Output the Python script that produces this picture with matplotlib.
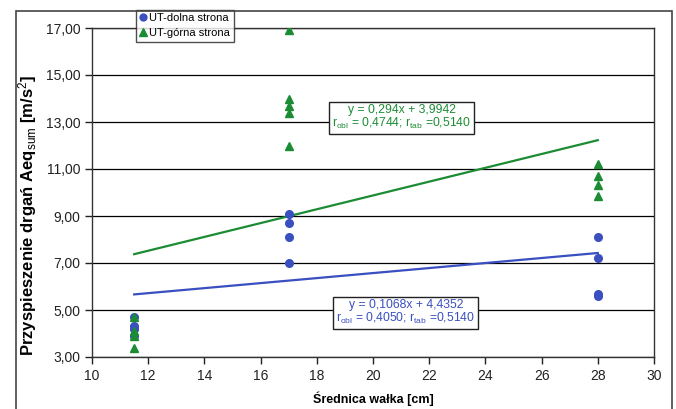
import numpy as np
import matplotlib.pyplot as plt
from matplotlib.patches import Rectangle

plt.rcParams['font.family'] = ['Liberation Sans', 'DejaVu Sans']
plt.rcParams['mathtext.fontset'] = 'custom'
plt.rcParams['mathtext.rm'] = 'Liberation Sans'
plt.rcParams['mathtext.it'] = 'Liberation Sans'
plt.rcParams['mathtext.bf'] = 'Liberation Sans:bold'

# data
x_dolna = [11.5, 11.5, 11.5, 11.5, 17, 17, 17, 17, 28, 28, 28, 28]
y_dolna = [4.7, 4.3, 4.2, 3.9, 9.1, 8.7, 8.1, 7.0, 8.1, 7.2, 5.7, 5.6]
x_gorna = [11.5, 11.5, 11.5, 11.5, 17, 17, 17, 17, 17, 28, 28, 28, 28]
y_gorna = [4.7, 4.1, 3.9, 3.4, 16.9, 14.0, 13.7, 13.4, 12.0, 11.2, 10.7, 10.3, 9.85]

# trend lines y = a*x + b
a_dolna, b_dolna = 0.1068, 4.4352
a_gorna, b_gorna = 0.294, 3.9942
x_trend = [11.5, 28]

blue = '#3a4fc0'
green = '#1c8c34'

fig = plt.figure(figsize=(6.76, 4.09), dpi=100)
ax = fig.add_axes([92 / 676, 1 - 357 / 409, (654 - 92) / 676, (357 - 28) / 409])

ax.set_xlim(10, 30)
ax.set_ylim(3, 17)
ax.set_xticks(np.arange(10, 31, 2))
ax.set_yticks(np.arange(3, 18, 2))
ax.set_yticklabels([('%.2f' % v).replace('.', ',') for v in np.arange(3, 18, 2)])
ax.tick_params(direction='out', length=5, width=1, labelsize=10, colors='#222222')
ax.yaxis.grid(True, color='black', linewidth=0.9)
ax.set_axisbelow(True)
for s in ax.spines.values():
    s.set_color('#333333')
    s.set_linewidth(1.0)

xt = np.array(x_trend)
ax.plot(xt, a_gorna * xt + b_gorna, color=green, linewidth=1.6, zorder=2)
ax.plot(xt, a_dolna * xt + b_dolna, color=blue, linewidth=1.6, zorder=2)

ax.plot(x_dolna, y_dolna, 'o', color=blue, markersize=5.5, label='UT-dolna strona', zorder=3)
ax.plot(x_gorna, y_gorna, '^', color=green, markersize=6, label='UT-górna strona', zorder=4)

ax.set_xlabel('Średnica wałka [cm]', fontsize=9, fontweight='bold')
ax.xaxis.set_label_coords(0.5, -0.105)
ax.set_ylabel(r'Przyspieszenie drgań Aeq$_{\mathrm{sum}}$ [m/s$^{2}$]', fontsize=12,
              fontweight='bold')
ax.yaxis.set_label_coords(-0.095, 0.43)

box = dict(boxstyle='square,pad=0.25', facecolor='white', edgecolor='#222222', linewidth=1)
ax.text(21.03, 13.2,
        'y = 0,294x + 3,9942\n' + r'r$_{\mathrm{obl}}$ = 0,4744; r$_{\mathrm{tab}}$ =0,5140',
        color=green, fontsize=8.7, ha='center', va='center', linespacing=1.0, bbox=box, zorder=5)
ax.text(21.17, 4.91,
        'y = 0,1068x + 4,4352\n' + r'r$_{\mathrm{obl}}$ = 0,4050; r$_{\mathrm{tab}}$ =0,5140',
        color=blue, fontsize=8.7, ha='center', va='center', linespacing=1.0, bbox=box, zorder=5)

leg = ax.legend(loc='upper left', bbox_to_anchor=(136 / 676, 1 - 10 / 409),
                bbox_transform=fig.transFigure, fontsize=8, frameon=True, fancybox=False,
                handlelength=0.6, handletextpad=0.3, borderpad=0.3, labelspacing=0.45,
                borderaxespad=0, markerscale=0.9)
leg.get_frame().set_edgecolor('#222222')
leg.get_frame().set_linewidth(1)
leg.set_zorder(6)

fig.patches.append(Rectangle((16 / 676, -0.05), (672 - 16) / 676, 1.05 - 11 / 409,
                             transform=fig.transFigure, fill=False, edgecolor='#444444',
                             linewidth=1.2))

fig.savefig('out.png', dpi=100)
